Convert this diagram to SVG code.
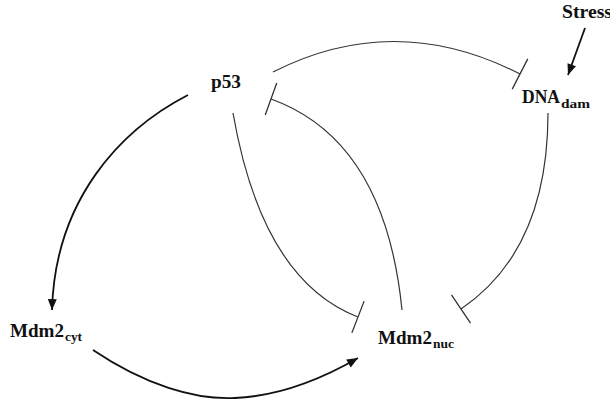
<svg xmlns="http://www.w3.org/2000/svg" width="610" height="403" viewBox="0 0 610 403">
<defs>
<style>
.lbl{font-family:"Liberation Serif","Times New Roman",serif;font-weight:bold;font-size:18px;fill:#111}
.sub{font-family:"Liberation Serif","Times New Roman",serif;font-weight:bold;font-size:13px;fill:#111}
.act{fill:none;stroke:#111;stroke-width:1.8}
.inh{fill:none;stroke:#333;stroke-width:1.2}
</style>
<marker id="arrow" markerUnits="userSpaceOnUse" markerWidth="14" markerHeight="12" viewBox="-12 -6 14 12" refX="0" refY="0" orient="auto">
<path d="M-11,-4.5 L0,0 L-11,4.5 Z" fill="#111"/>
</marker>
<marker id="tee" markerUnits="userSpaceOnUse" markerWidth="6" markerHeight="36" viewBox="-3 -18 6 36" refX="0" refY="0" orient="auto">
<path d="M0,-17 L0,17" stroke="#333" stroke-width="1.3"/>
</marker>
</defs>
<g id="connectors">
<path class="act" d="M188,95 C120,130 55,200 52,310" marker-end="url(#arrow)"/>
<path class="act" d="M93,350 C145,385 195,400 235,398 C280,396 320,380 358,358" marker-end="url(#arrow)"/>
<path class="act" d="M585,28 L568,75" marker-end="url(#arrow)"/>
<path class="inh" d="M273,72 Q395,10 520,74" marker-end="url(#tee)"/>
<path class="inh" d="M233,113 Q262,280 358,317" marker-end="url(#tee)"/>
<path class="inh" d="M402,310 Q385,140 271,99" marker-end="url(#tee)"/>
<path class="inh" d="M548,113 Q548,250 461,309" marker-end="url(#tee)"/>
</g>
<g id="stress"><text class="lbl" x="562" y="18" textLength="50" lengthAdjust="spacingAndGlyphs">Stress</text></g>
<g id="p53"><text class="lbl" x="211" y="88" textLength="30" lengthAdjust="spacingAndGlyphs">p53</text></g>
<g id="dna"><text class="lbl" x="522" y="103" textLength="38" lengthAdjust="spacingAndGlyphs">DNA</text><text class="sub" x="561" y="108" textLength="29" lengthAdjust="spacingAndGlyphs">dam</text></g>
<g id="mdm2cyt"><text class="lbl" x="10" y="337" textLength="54" lengthAdjust="spacingAndGlyphs">Mdm2</text><text class="sub" x="65" y="341" textLength="17" lengthAdjust="spacingAndGlyphs">cyt</text></g>
<g id="mdm2nuc"><text class="lbl" x="378" y="344" textLength="54" lengthAdjust="spacingAndGlyphs">Mdm2</text><text class="sub" x="433" y="348" textLength="21" lengthAdjust="spacingAndGlyphs">nuc</text></g>
</svg>
